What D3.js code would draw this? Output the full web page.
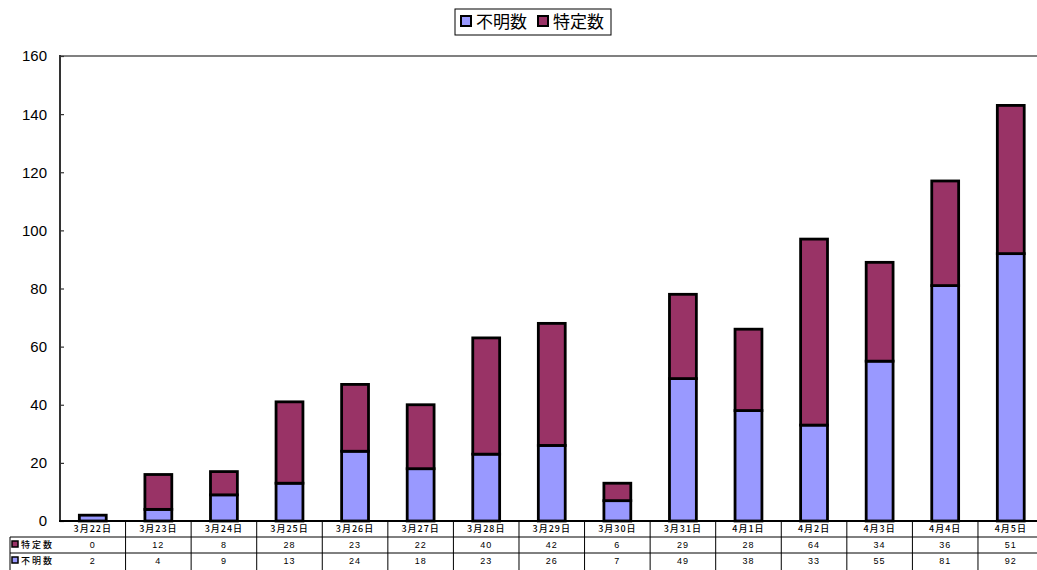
<!DOCTYPE html>
<html>
<head>
<meta charset="utf-8">
<script src="https://cdn.jsdelivr.net/npm/d3@7"></script>
<style>
  html, body { margin: 0; padding: 0; background: #fff; }
  svg { display: block; }
  text { font-family: "Liberation Sans", Arial, sans-serif; }
  .jp { font-family: "Noto Sans CJK JP", "Noto Sans CJK SC", sans-serif; }
</style>
</head>
<body>
<script>
// Daily counts: dates, identified (特定数) and unidentified (不明数)
const categories = ["3月22日","3月23日","3月24日","3月25日","3月26日","3月27日","3月28日","3月29日","3月30日","3月31日","4月1日","4月2日","4月3日","4月4日","4月5日"];
const tokutei = [0,12,8,28,23,22,40,42,6,29,28,64,34,36,51];
const fumei   = [2,4,9,13,24,18,23,26,7,49,38,33,55,81,92];
const yTicks  = [0,20,40,60,80,100,120,140,160];
const seriesNames = ["不明数","特定数"];
const seriesKeys  = ["fumei","tokutei"];
const colors = {fumei: "#9999FF", tokutei: "#993366"};

const W = 1037, H = 570;
const left = 60, step = 65.57, zeroY = 521, topY = 56;

const svg = d3.select("body").append("svg").attr("width", W).attr("height", H);

const rows = categories.map((c, i) => ({cat: c, fumei: fumei[i], tokutei: tokutei[i]}));
const stacked = d3.stack().keys(seriesKeys)(rows);

const x = d3.scaleBand().domain(categories)
  .range([left, left + step * categories.length])
  .paddingInner(0.59).paddingOuter(0.295);
const xCell = d3.scaleBand().domain(categories)
  .range([left, left + step * categories.length]).padding(0);
const y = d3.scaleLinear().domain([0, 160]).range([zeroY, topY]);

// top frame line
svg.append("line").attr("x1", left).attr("x2", W).attr("y1", y(160)).attr("y2", y(160))
  .attr("stroke", "#808080").attr("stroke-width", 2);

// bars
svg.append("g").selectAll("g").data(stacked).join("g")
  .attr("fill", d => colors[d.key])
  .selectAll("rect").data(d => d.filter(p => p[1] - p[0] > 0)).join("rect")
  .attr("x", d => x(d.data.cat))
  .attr("width", x.bandwidth())
  .attr("y", d => y(d[1]))
  .attr("height", d => y(d[0]) - y(d[1]))
  .attr("stroke", "#000").attr("stroke-width", 2.8);

// y axis
const yAxis = d3.axisRight(y).tickValues(yTicks).tickSize(4).tickFormat(d3.format("d"));
const ya = svg.append("g").attr("transform", `translate(${left},0)`).call(yAxis);
ya.select(".domain").remove();
ya.selectAll(".tick line").attr("stroke", "#333").attr("stroke-width", 1.2);
ya.selectAll(".tick text").remove();
svg.append("line").attr("x1", left).attr("x2", left).attr("y1", y(160) - 1).attr("y2", zeroY)
  .attr("stroke", "#333").attr("stroke-width", 2);
svg.append("g").selectAll("text").data(yTicks).join("text")
  .attr("x", 47).attr("y", d => y(d)).attr("dy", "0.36em")
  .attr("text-anchor", "end").attr("font-size", 15).attr("fill", "#000")
  .text(d => d);

// data table below the axis
const rowY = [zeroY, 537, 553, 570];
const tableLeft = 10;
const g = svg.append("g").attr("stroke", "#000").attr("stroke-width", 1);
g.append("line").attr("x1", tableLeft).attr("x2", W).attr("y1", rowY[1]).attr("y2", rowY[1]);
g.append("line").attr("x1", tableLeft).attr("x2", W).attr("y1", rowY[2]).attr("y2", rowY[2]);
g.append("line").attr("x1", tableLeft).attr("x2", tableLeft).attr("y1", rowY[1]).attr("y2", H);
g.selectAll("line.v").data(categories.slice(1)).join("line").attr("class", "v")
  .attr("x1", d => xCell(d)).attr("x2", d => xCell(d)).attr("y1", zeroY).attr("y2", H);

// x axis line
svg.append("line").attr("x1", left - 1).attr("x2", W).attr("y1", zeroY).attr("y2", zeroY)
  .attr("stroke", "#000").attr("stroke-width", 2);

const cx = d => xCell(d) + xCell.bandwidth() / 2;
svg.append("g").selectAll("text").data(categories).join("text")
  .attr("class", "jp").attr("x", cx).attr("y", 532)
  .attr("text-anchor", "middle").attr("font-size", 9).attr("letter-spacing", 1)
  .attr("font-weight", 500).attr("fill", "#000").text(d => d);

const tableRows = [{key: "tokutei", name: "特定数", vals: tokutei, y: 548},
                   {key: "fumei", name: "不明数", vals: fumei, y: 564}];
tableRows.forEach(r => {
  svg.append("g").selectAll("text").data(r.vals).join("text")
    .attr("x", (d, i) => cx(categories[i])).attr("y", r.y)
    .attr("text-anchor", "middle").attr("font-size", 9).attr("letter-spacing", 1)
    .attr("fill", "#000").text(d => d);
  svg.append("rect").attr("x", 12).attr("y", r.y - 7).attr("width", 6).attr("height", 6)
    .attr("fill", colors[r.key]).attr("stroke", "#000").attr("stroke-width", 1.5);
  svg.append("text").attr("class", "jp").attr("x", 21).attr("y", r.y)
    .attr("font-size", 9).attr("letter-spacing", 2).attr("font-weight", 500)
    .attr("fill", "#000").text(r.name);
});

// legend
const lg = svg.append("g");
lg.append("rect").attr("x", 455).attr("y", 9).attr("width", 156).attr("height", 26)
  .attr("fill", "#fff").attr("stroke", "#000").attr("stroke-width", 1);
const legendX = [461, 538];
seriesKeys.forEach((k, i) => {
  lg.append("rect").attr("x", legendX[i]).attr("y", 16).attr("width", 10).attr("height", 10)
    .attr("fill", colors[k]).attr("stroke", "#000").attr("stroke-width", 2);
  lg.append("text").attr("class", "jp").attr("x", legendX[i] + 15).attr("y", 28)
    .attr("font-size", 17).attr("fill", "#000").text(seriesNames[i]);
});
</script>
</body>
</html>
